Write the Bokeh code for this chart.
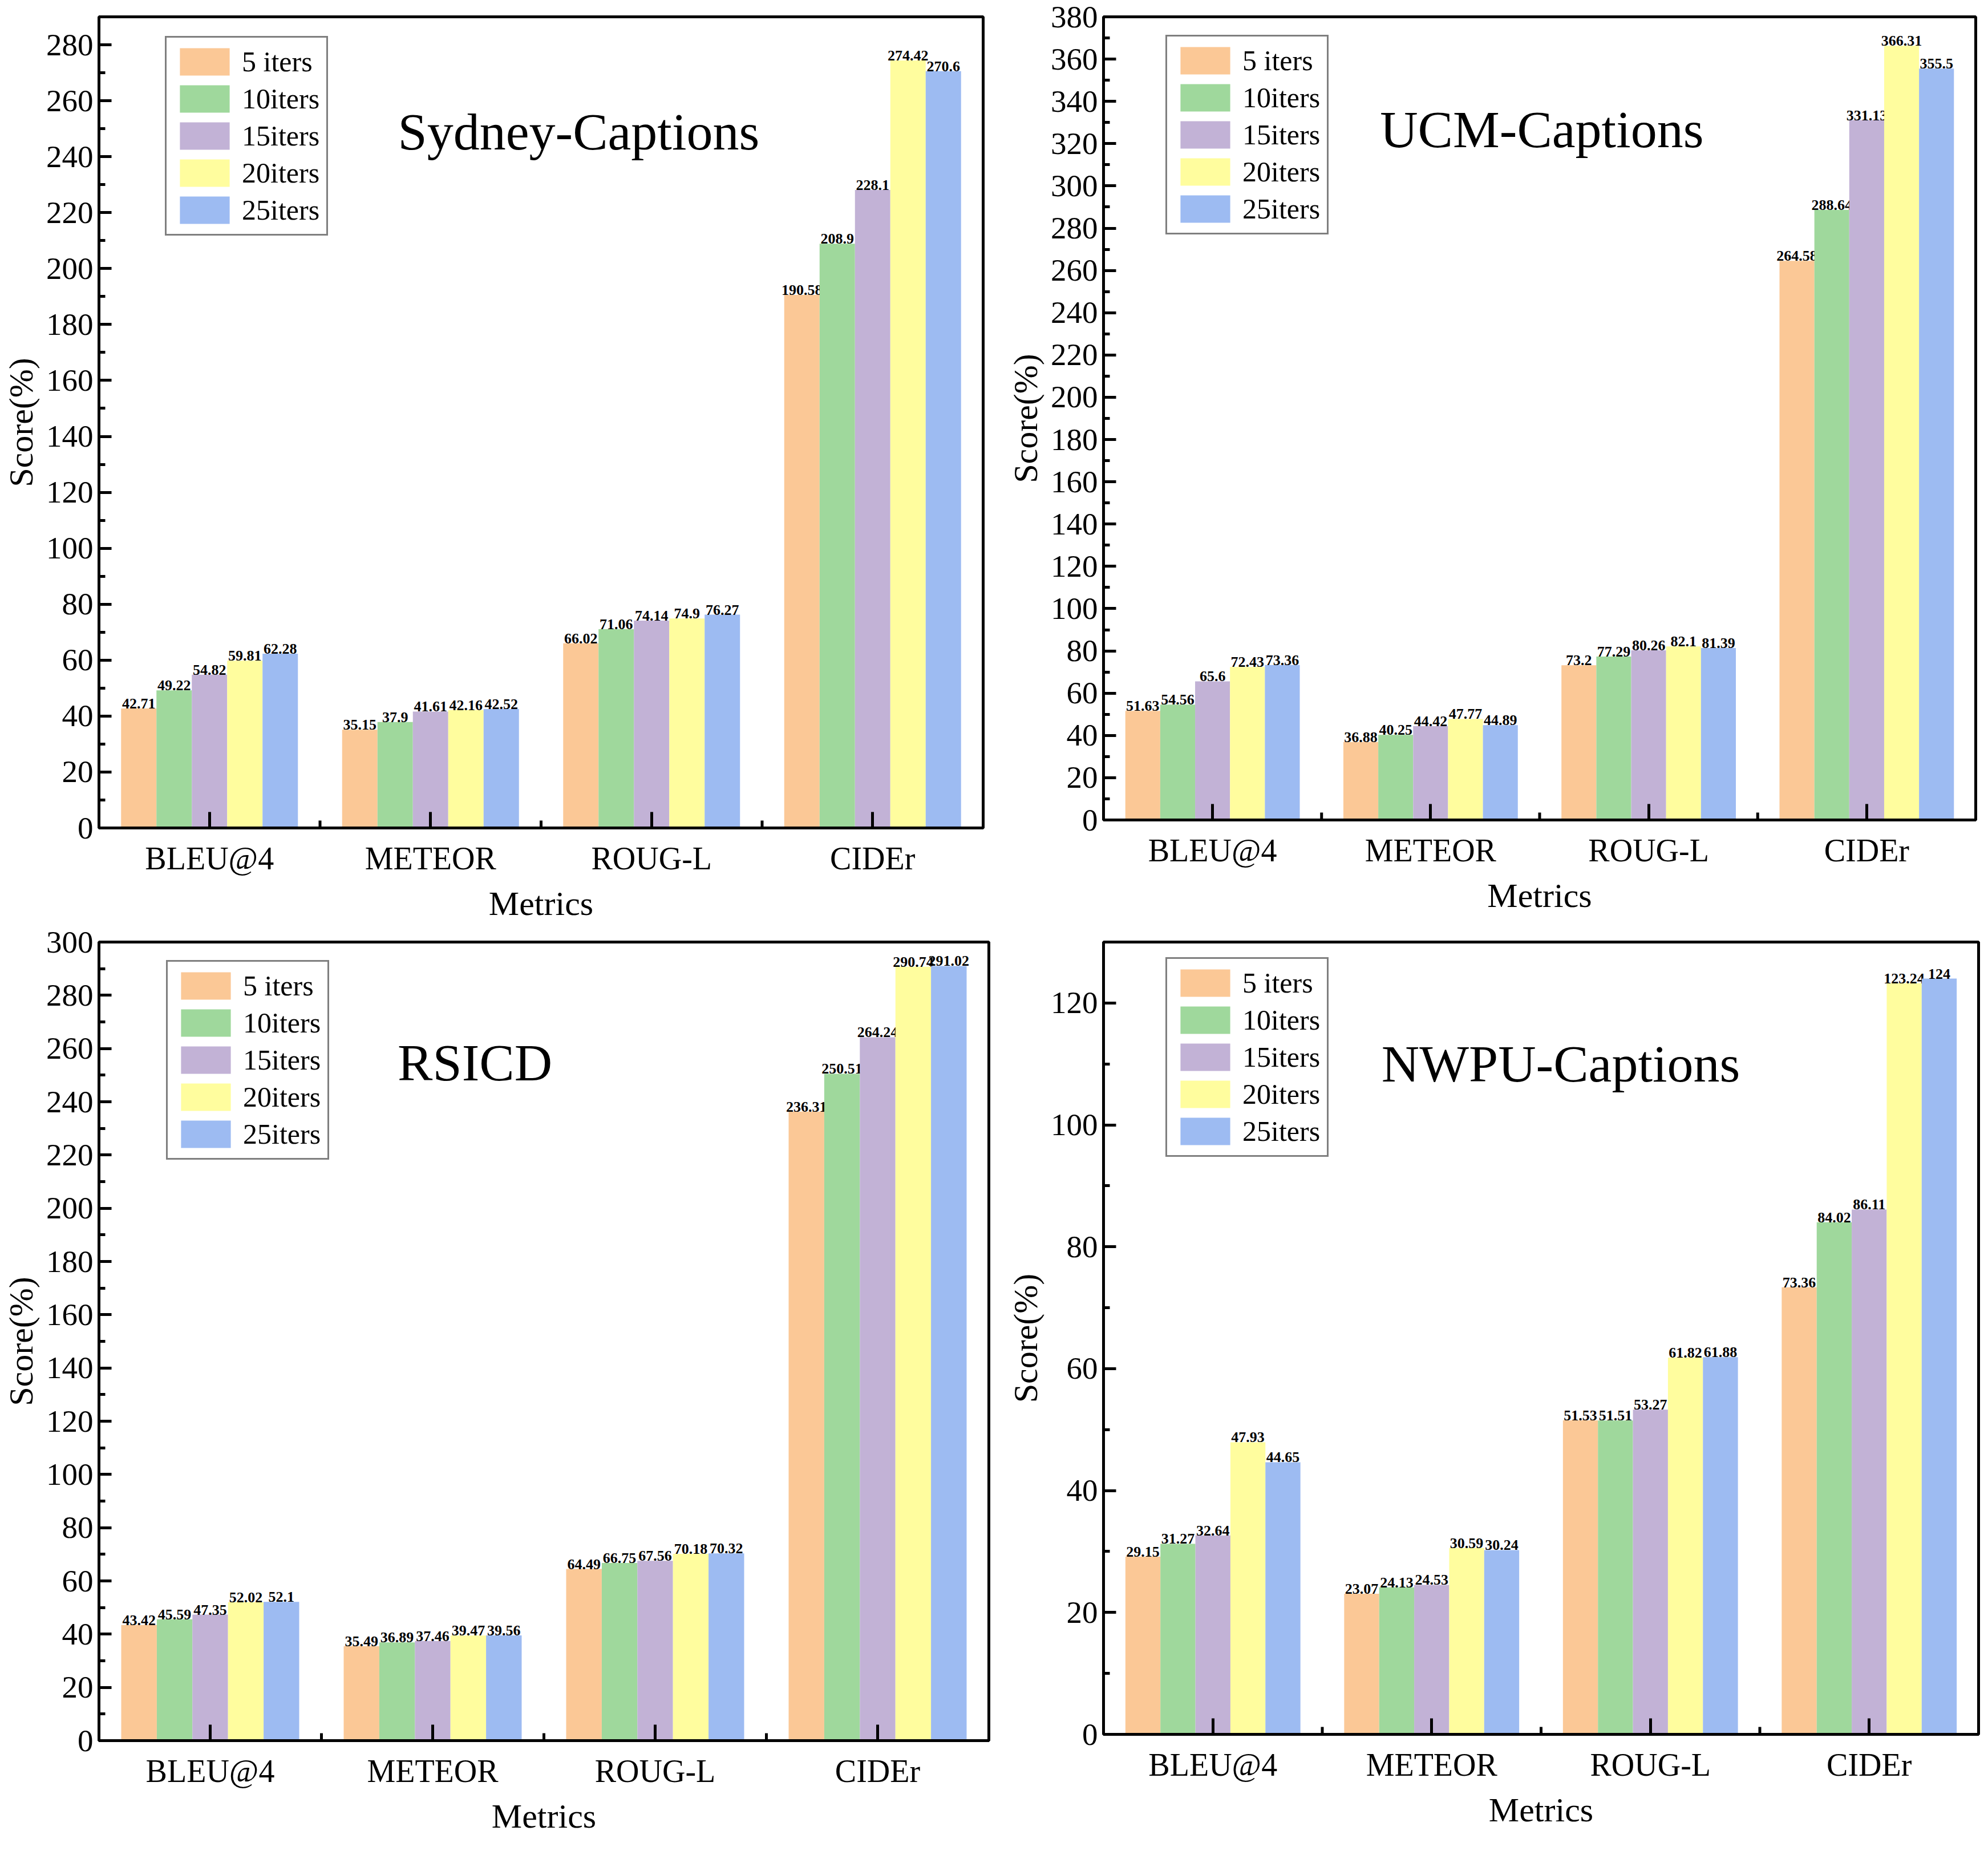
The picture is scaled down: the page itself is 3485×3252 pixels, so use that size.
from bokeh.plotting import figure
from bokeh.layouts import gridplot
from bokeh.models import (ColumnDataSource, Range1d, FactorRange, SingleIntervalTicker,
                          Legend, LegendItem, Label)
from bokeh.transform import dodge
from bokeh.core.properties import value
from bokeh.embed import file_html
from bokeh.resources import INLINE

metrics = ["BLEU@4", "METEOR", "ROUG-L", "CIDEr"]
series_names = ["5 iters", "10iters", "15iters", "20iters", "25iters"]
colors = ["#FBC896", "#9FD89C", "#C2B2D6", "#FFFD9E", "#9DBBF2"]

sydney_5 = [42.71, 35.15, 66.02, 190.58]
sydney_10 = [49.22, 37.9, 71.06, 208.9]
sydney_15 = [54.82, 41.61, 74.14, 228.1]
sydney_20 = [59.81, 42.16, 74.9, 274.42]
sydney_25 = [62.28, 42.52, 76.27, 270.6]

ucm_5 = [51.63, 36.88, 73.2, 264.58]
ucm_10 = [54.56, 40.25, 77.29, 288.64]
ucm_15 = [65.6, 44.42, 80.26, 331.13]
ucm_20 = [72.43, 47.77, 82.1, 366.31]
ucm_25 = [73.36, 44.89, 81.39, 355.5]

rsicd_5 = [43.42, 35.49, 64.49, 236.31]
rsicd_10 = [45.59, 36.89, 66.75, 250.51]
rsicd_15 = [47.35, 37.46, 67.56, 264.24]
rsicd_20 = [52.02, 39.47, 70.18, 290.74]
rsicd_25 = [52.1, 39.56, 70.32, 291.02]

nwpu_5 = [29.15, 23.07, 51.53, 73.36]
nwpu_10 = [31.27, 24.13, 51.51, 84.02]
nwpu_15 = [32.64, 24.53, 53.27, 86.11]
nwpu_20 = [47.93, 30.59, 61.82, 123.24]
nwpu_25 = [44.65, 30.24, 61.88, 124.0]

FONT = "Liberation Serif"
BAR_W = 0.16
OFFSETS = [-0.32, -0.16, 0.0, 0.16, 0.32]

LEG_PAD, LEG_GH, LEG_SP = 12, 60, 5
LEG_H = 2 * LEG_PAD + len(series_names) * LEG_GH + (len(series_names) - 1) * LEG_SP


def make_panel(title, series, ymax, title_pos, legend_off, dims):
    fw, fh, bl, br, bt, bb = dims
    p = figure(frame_width=fw, frame_height=fh, x_range=FactorRange(factors=metrics),
               y_range=Range1d(0, ymax), output_backend="svg", toolbar_location=None,
               min_border_left=bl, min_border_right=br, min_border_top=bt,
               min_border_bottom=bb)
    p.xgrid.visible = False
    p.ygrid.visible = False
    p.outline_line_color = "black"
    p.outline_line_width = 5
    p.outline_line_alpha = 1.0
    p.background_fill_color = "white"
    p.border_fill_color = "white"

    renderers = []
    for name, vals, col, off in zip(series_names, series, colors, OFFSETS):
        src = ColumnDataSource(dict(metric=metrics, value=vals,
                                    label=[f"{v:g}" for v in vals]))
        r = p.vbar(x=dodge("metric", off, range=p.x_range), top="value", width=BAR_W,
                   source=src, fill_color=col, line_color=None)
        p.text(x=dodge("metric", off, range=p.x_range), y="value", text="label",
               source=src, text_font=value(FONT), text_font_size="26px",
               text_font_style="bold", text_align="center", text_baseline="bottom",
               text_color="black")
        renderers.append((name, r))

    # minor ticks on the category boundaries
    tick_len = 13.0 / fh * ymax
    bounds = list(range(1, len(metrics)))
    p.segment(x0=bounds, y0=[0] * len(bounds), x1=bounds, y1=[tick_len] * len(bounds),
              line_color="black", line_width=5)

    ya = p.yaxis[0]
    ya.ticker = SingleIntervalTicker(interval=20, num_minor_ticks=2)
    ya.axis_label = "Score(%)"
    ya.axis_label_text_font = FONT
    ya.axis_label_text_font_size = "60px"
    ya.axis_label_text_font_style = "normal"
    ya.axis_label_text_color = "black"
    ya.axis_label_standoff = 8
    ya.major_label_text_font = FONT
    ya.major_label_text_font_size = "55px"
    ya.major_label_text_color = "black"
    ya.major_label_standoff = 10
    ya.axis_line_width = 5
    ya.major_tick_in = 22
    ya.major_tick_out = 0
    ya.minor_tick_in = 11
    ya.minor_tick_out = 0
    ya.major_tick_line_width = 5
    ya.minor_tick_line_width = 5

    xa = p.xaxis[0]
    xa.axis_label = "Metrics"
    xa.axis_label_text_font = FONT
    xa.axis_label_text_font_size = "60px"
    xa.axis_label_text_font_style = "normal"
    xa.axis_label_text_color = "black"
    xa.axis_label_standoff = 12
    xa.major_label_text_font = FONT
    xa.major_label_text_font_size = "56px"
    xa.major_label_text_color = "black"
    xa.major_label_standoff = 22
    xa.axis_line_width = 5
    xa.major_tick_in = 28
    xa.major_tick_out = 0
    xa.major_tick_line_width = 5

    tx, ty = title_pos
    p.add_layout(Label(x=tx, y=ty * ymax, text=title, text_font=FONT,
                       text_font_size="92px", text_align="center",
                       text_baseline="middle", text_color="black"))

    items = [LegendItem(label=n, renderers=[r]) for n, r in renderers]
    lx, ly = legend_off
    legend = Legend(items=items, location=(lx, fh - ly - LEG_H), orientation="vertical",
                    label_text_font=FONT, label_text_font_size="50px",
                    label_text_color="black",
                    glyph_width=109, glyph_height=LEG_GH, label_height=LEG_GH,
                    spacing=LEG_SP, padding=LEG_PAD, label_standoff=11, margin=0,
                    border_line_color="black", border_line_width=3,
                    background_fill_color="white", background_fill_alpha=1.0)
    p.add_layout(legend)
    return p


p1 = make_panel("Sydney-Captions",
                [sydney_5, sydney_10, sydney_15, sydney_20, sydney_25],
                290, (2.17, 0.858), (116, 40), (1550, 1422, 165, 19, 14, 181))
p2 = make_panel("UCM-Captions",
                [ucm_5, ucm_10, ucm_15, ucm_20, ucm_25],
                380, (2.01, 0.86), (109, 38), (1529, 1408, 192, 13, 29, 180))
p3 = make_panel("RSICD",
                [rsicd_5, rsicd_10, rsicd_15, rsicd_20, rsicd_25],
                300, (1.69, 0.849), (118, 38), (1560, 1400, 170, 4, 34, 181))
p4 = make_panel("NWPU-Captions",
                [nwpu_5, nwpu_10, nwpu_15, nwpu_20, nwpu_25],
                130, (2.09, 0.846), (109, 33), (1534, 1389, 187, 13, 32, 194))

grid = gridplot([[p1, p2], [p3, p4]], toolbar_location=None)
open("out.html", "w").write(file_html(grid, INLINE))
